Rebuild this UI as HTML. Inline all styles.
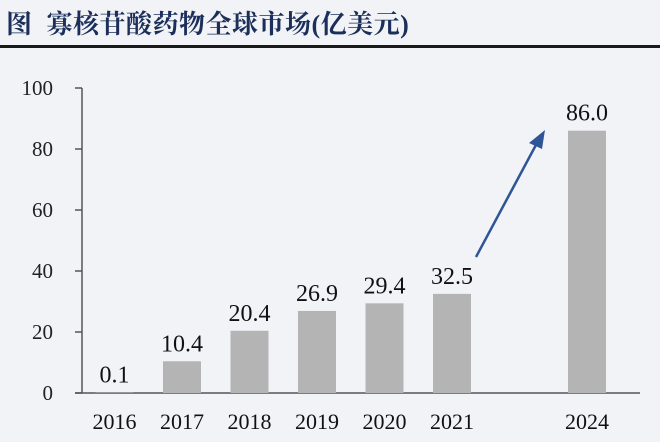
<!DOCTYPE html>
<html><head><meta charset="utf-8"><style>
html,body{margin:0;padding:0;background:#f4f5f9;}
#wrap{position:relative;width:660px;height:442px;overflow:hidden;background:#f2f3f7;font-family:"Liberation Serif","Noto Serif CJK SC",serif;}
#title{position:absolute;left:6px;top:4px;font-size:26px;font-weight:bold;color:#1b2f5a;font-family:"Liberation Serif","Noto Serif CJK SC",serif;letter-spacing:0.5px;white-space:nowrap;}
#rule{position:absolute;left:0;top:45px;width:660px;height:3px;background:#1a1a1a;}
</style></head><body>
<div id="wrap">
<div id="title">图&nbsp; 寡核苷酸药物全球市场(亿美元)</div>
<div id="rule"></div>
<svg id="chart" width="660" height="442" style="position:absolute;left:0;top:0"></svg>
</div>
<script>
const categories=["2016","2017","2018","2019","2020","2021","2024"];
const slots=[0,1,2,3,4,5,7];
const values=[0.1,10.4,20.4,26.9,29.4,32.5,86.0];
const valueLabels=["0.1","10.4","20.4","26.9","29.4","32.5","86.0"];
const yTicks=[0,20,40,60,80,100];
const NS="http://www.w3.org/2000/svg";
const svg=document.getElementById('chart');
const x0=114.5,step=67.5,bw=38,axisX=82,yZero=393,yTop=88;
const xs=s=>x0+s*step;
const ys=v=>yZero-(v/100)*(yZero-yTop);
function mk(t,a){const e=document.createElementNS(NS,t);for(const k in a)e.setAttribute(k,a[k]);svg.appendChild(e);return e;}
let ax=mk('line',{x1:axisX,y1:yTop,x2:axisX,y2:yZero,stroke:'#555','stroke-width':1.5});


let bx=mk('line',{x1:75,y1:yZero,x2:640,y2:yZero,stroke:'#555','stroke-width':1.5});


yTicks.forEach(t=>{
  const y=ys(t);
  let tk=mk('line',{x1:75,y1:y,x2:axisX,y2:y,stroke:'#555','stroke-width':1.5});
  
  
  let tl=mk('text',{x:53,y:y+7,'text-anchor':'end','font-size':21,fill:'#222','font-family':'Liberation Serif, serif'});
  tl.textContent=t;
  
  
});
categories.forEach((c,i)=>{
  const cx=xs(slots[i]);
  const y=ys(values[i]);
  let r=mk('rect',{x:cx-bw/2,y:y,width:bw,height:yZero-y,fill:'#b4b4b4'});
  
  
  let vl=mk('text',{x:cx,y:y-10,'text-anchor':'middle','font-size':24,fill:'#111','font-family':'Liberation Serif, serif'});
  vl.textContent=valueLabels[i];
  
  
  let xl=mk('text',{x:cx,y:429,'text-anchor':'middle','font-size':22,fill:'#111','font-family':'Liberation Serif, serif'});
  xl.textContent=c;
  
  
});
let ar=mk('line',{x1:476,y1:257,x2:537,y2:143,stroke:'#2f5597','stroke-width':2.5});


let ah=mk('polygon',{points:'545,130 529,143 542,149',fill:'#2f5597'});


</script>
</body></html>
